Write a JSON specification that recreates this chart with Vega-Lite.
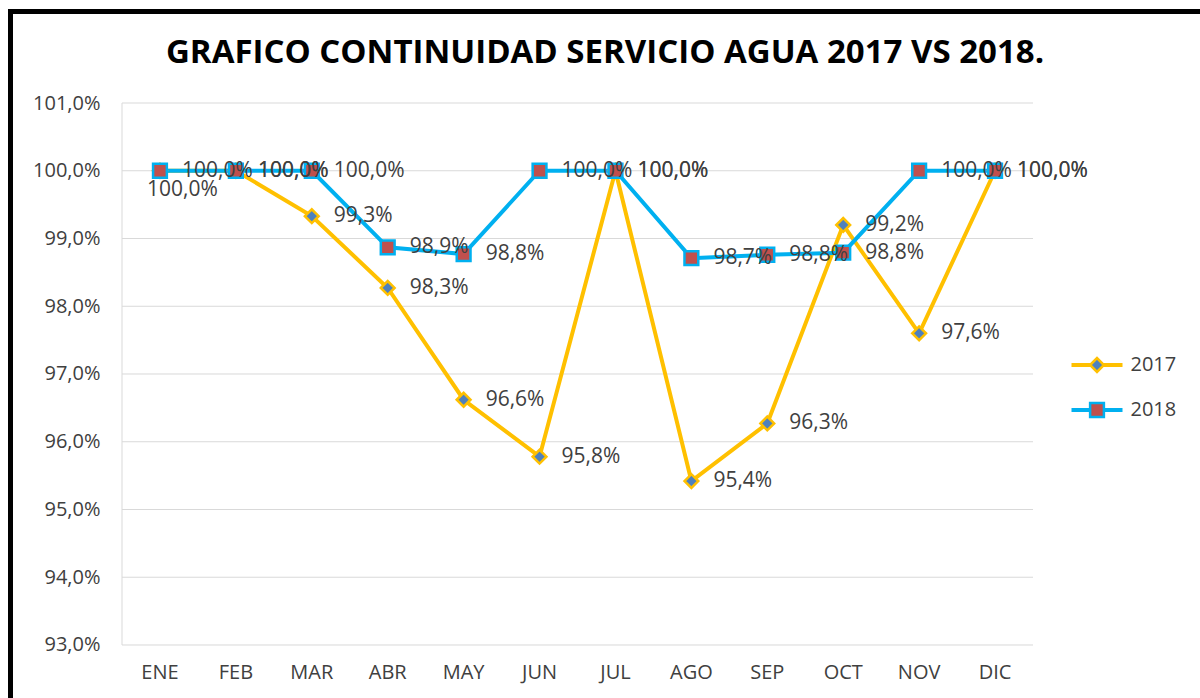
{
  "$schema": "https://vega.github.io/schema/vega-lite/v6.json",
  "width": 1220,
  "height": 720,
  "autosize": "none",
  "padding": {"left": 10.5, "top": 11.5, "right": 0, "bottom": 0},
  "background": "white",
  "config": {
    "locale": {"number": {"decimal": ",", "thousands": ".", "grouping": [3], "currency": ["", " €"]}},
    "view": {"stroke": "#000000", "strokeWidth": 5},
    "font": "Open Sans"
  },
  "title": {
    "text": "GRAFICO CONTINUIDAD SERVICIO AGUA 2017 VS 2018.",
    "font": "Open Sans",
    "fontSize": 33,
    "fontWeight": "bold",
    "color": "#000000",
    "anchor": "middle",
    "frame": "group",
    "baseline": "alphabetic",
    "offset": -84,
    "dx": -15.5
  },
  "datasets": {
    "valores": [
      {"mes": "ENE", "serie": "2017", "valor": 1.0},
      {"mes": "FEB", "serie": "2017", "valor": 1.0},
      {"mes": "MAR", "serie": "2017", "valor": 0.9933},
      {"mes": "ABR", "serie": "2017", "valor": 0.9827},
      {"mes": "MAY", "serie": "2017", "valor": 0.9662},
      {"mes": "JUN", "serie": "2017", "valor": 0.9578},
      {"mes": "JUL", "serie": "2017", "valor": 1.0},
      {"mes": "AGO", "serie": "2017", "valor": 0.9542},
      {"mes": "SEP", "serie": "2017", "valor": 0.9627},
      {"mes": "OCT", "serie": "2017", "valor": 0.992},
      {"mes": "NOV", "serie": "2017", "valor": 0.976},
      {"mes": "DIC", "serie": "2017", "valor": 1.0},
      {"mes": "ENE", "serie": "2018", "valor": 1.0},
      {"mes": "FEB", "serie": "2018", "valor": 1.0},
      {"mes": "MAR", "serie": "2018", "valor": 1.0},
      {"mes": "ABR", "serie": "2018", "valor": 0.9887},
      {"mes": "MAY", "serie": "2018", "valor": 0.9877},
      {"mes": "JUN", "serie": "2018", "valor": 1.0},
      {"mes": "JUL", "serie": "2018", "valor": 1.0},
      {"mes": "AGO", "serie": "2018", "valor": 0.9871},
      {"mes": "SEP", "serie": "2018", "valor": 0.9876},
      {"mes": "OCT", "serie": "2018", "valor": 0.9879},
      {"mes": "NOV", "serie": "2018", "valor": 1.0},
      {"mes": "DIC", "serie": "2018", "valor": 1.0}
    ],
    "grilla": [
      {"nivel": 0.93}, {"nivel": 0.94}, {"nivel": 0.95}, {"nivel": 0.96}, {"nivel": 0.97},
      {"nivel": 0.98}, {"nivel": 0.99}, {"nivel": 1.0}, {"nivel": 1.01}
    ]
  },
  "layer": [
    {
      "data": {"name": "grilla"},
      "mark": {"type": "rule", "color": "#D9D9D9", "strokeWidth": 1},
      "encoding": {
        "x": {"datum": "ENE", "type": "nominal", "bandPosition": 0,
          "scale": {"type": "band", "domain": ["ENE","FEB","MAR","ABR","MAY","JUN","JUL","AGO","SEP","OCT","NOV","DIC"], "range": [111.5, 1022.5], "paddingInner": 0, "paddingOuter": 0},
          "axis": {"orient": "bottom", "domain": false, "ticks": false, "grid": false, "labelAngle": 0, "labelFont": "Open Sans", "labelFontSize": 20, "labelColor": "#404040", "labelPadding": 17, "offset": -86.5, "title": null}},
        "x2": {"datum": "DIC", "bandPosition": 1},
        "y": {"field": "nivel", "type": "quantitative",
          "scale": {"domain": [0.917232, 1.023506], "nice": false, "zero": false},
          "axis": {"orient": "left", "values": [0.93, 0.94, 0.95, 0.96, 0.97, 0.98, 0.99, 1.0, 1.01], "format": ".1%", "domain": false, "ticks": false, "tickSize": 0, "grid": false, "labelFont": "Open Sans", "labelFontSize": 20, "labelColor": "#404040", "labelPadding": 22, "offset": -111.5, "title": null}}
      }
    },
    {
      "data": {"name": "grilla"},
      "transform": [{"filter": "datum.nivel === 0.93"}],
      "mark": {"type": "rule", "color": "#D9D9D9", "strokeWidth": 1},
      "encoding": {
        "x": {"datum": "ENE", "type": "nominal", "bandPosition": 0},
        "y": {"datum": 0.93, "type": "quantitative"},
        "y2": {"datum": 1.01}
      }
    },
    {
      "data": {"name": "valores"},
      "mark": {"type": "line", "strokeWidth": 4},
      "encoding": {
        "x": {"field": "mes", "type": "nominal"},
        "y": {"field": "valor", "type": "quantitative"},
        "color": {"field": "serie", "type": "nominal",
          "scale": {"domain": ["2017", "2018"], "range": ["#FFC000", "#00B0F0"]},
          "legend": {"orient": "none", "legendX": 1059, "legendY": 343.5, "title": null, "padding": 0, "symbolType": "stroke", "symbolSize": 2601, "symbolStrokeWidth": 4, "clipHeight": 20, "rowPadding": 25, "labelFont": "Open Sans", "labelFontSize": 20, "labelColor": "#404040", "labelOffset": 6}}
      }
    },
    {
      "data": {"name": "valores"},
      "mark": {"type": "point", "filled": true, "size": 190, "strokeWidth": 2.5, "opacity": 1},
      "encoding": {
        "x": {"field": "mes", "type": "nominal"},
        "y": {"field": "valor", "type": "quantitative"},
        "fill": {"field": "serie", "type": "nominal", "scale": {"range": ["#4F81BD", "#C0504D"]},
          "legend": {"orient": "none", "legendX": 1076.5, "legendY": 343.5, "title": null, "padding": 0, "symbolSize": 190, "symbolStrokeWidth": 2.5, "symbolOpacity": 1, "clipHeight": 20, "rowPadding": 25, "labelFontSize": 20, "labelExpr": "''"}},
        "stroke": {"field": "serie", "type": "nominal", "scale": {"range": ["#FFC000", "#00B0F0"]}},
        "shape": {"field": "serie", "type": "nominal", "scale": {"range": ["diamond", "square"]}}
      }
    },
    {
      "data": {"name": "valores"},
      "transform": [{"filter": "!(datum.mes === 'ENE' && datum.serie === '2017')"}],
      "mark": {"type": "text", "align": "left", "baseline": "middle", "dx": 22, "font": "Open Sans", "fontSize": 21, "color": "#404040"},
      "encoding": {
        "x": {"field": "mes", "type": "nominal"},
        "y": {"field": "valor", "type": "quantitative"},
        "text": {"field": "valor", "type": "quantitative", "format": ".1%"}
      }
    },
    {
      "data": {"name": "valores"},
      "transform": [{"filter": "datum.mes === 'ENE' && datum.serie === '2017'"}],
      "mark": {"type": "text", "align": "center", "baseline": "middle", "dx": 22.5, "dy": 19, "font": "Open Sans", "fontSize": 21, "color": "#404040"},
      "encoding": {
        "x": {"field": "mes", "type": "nominal"},
        "y": {"field": "valor", "type": "quantitative"},
        "text": {"field": "valor", "type": "quantitative", "format": ".1%"}
      }
    }
  ]
}
